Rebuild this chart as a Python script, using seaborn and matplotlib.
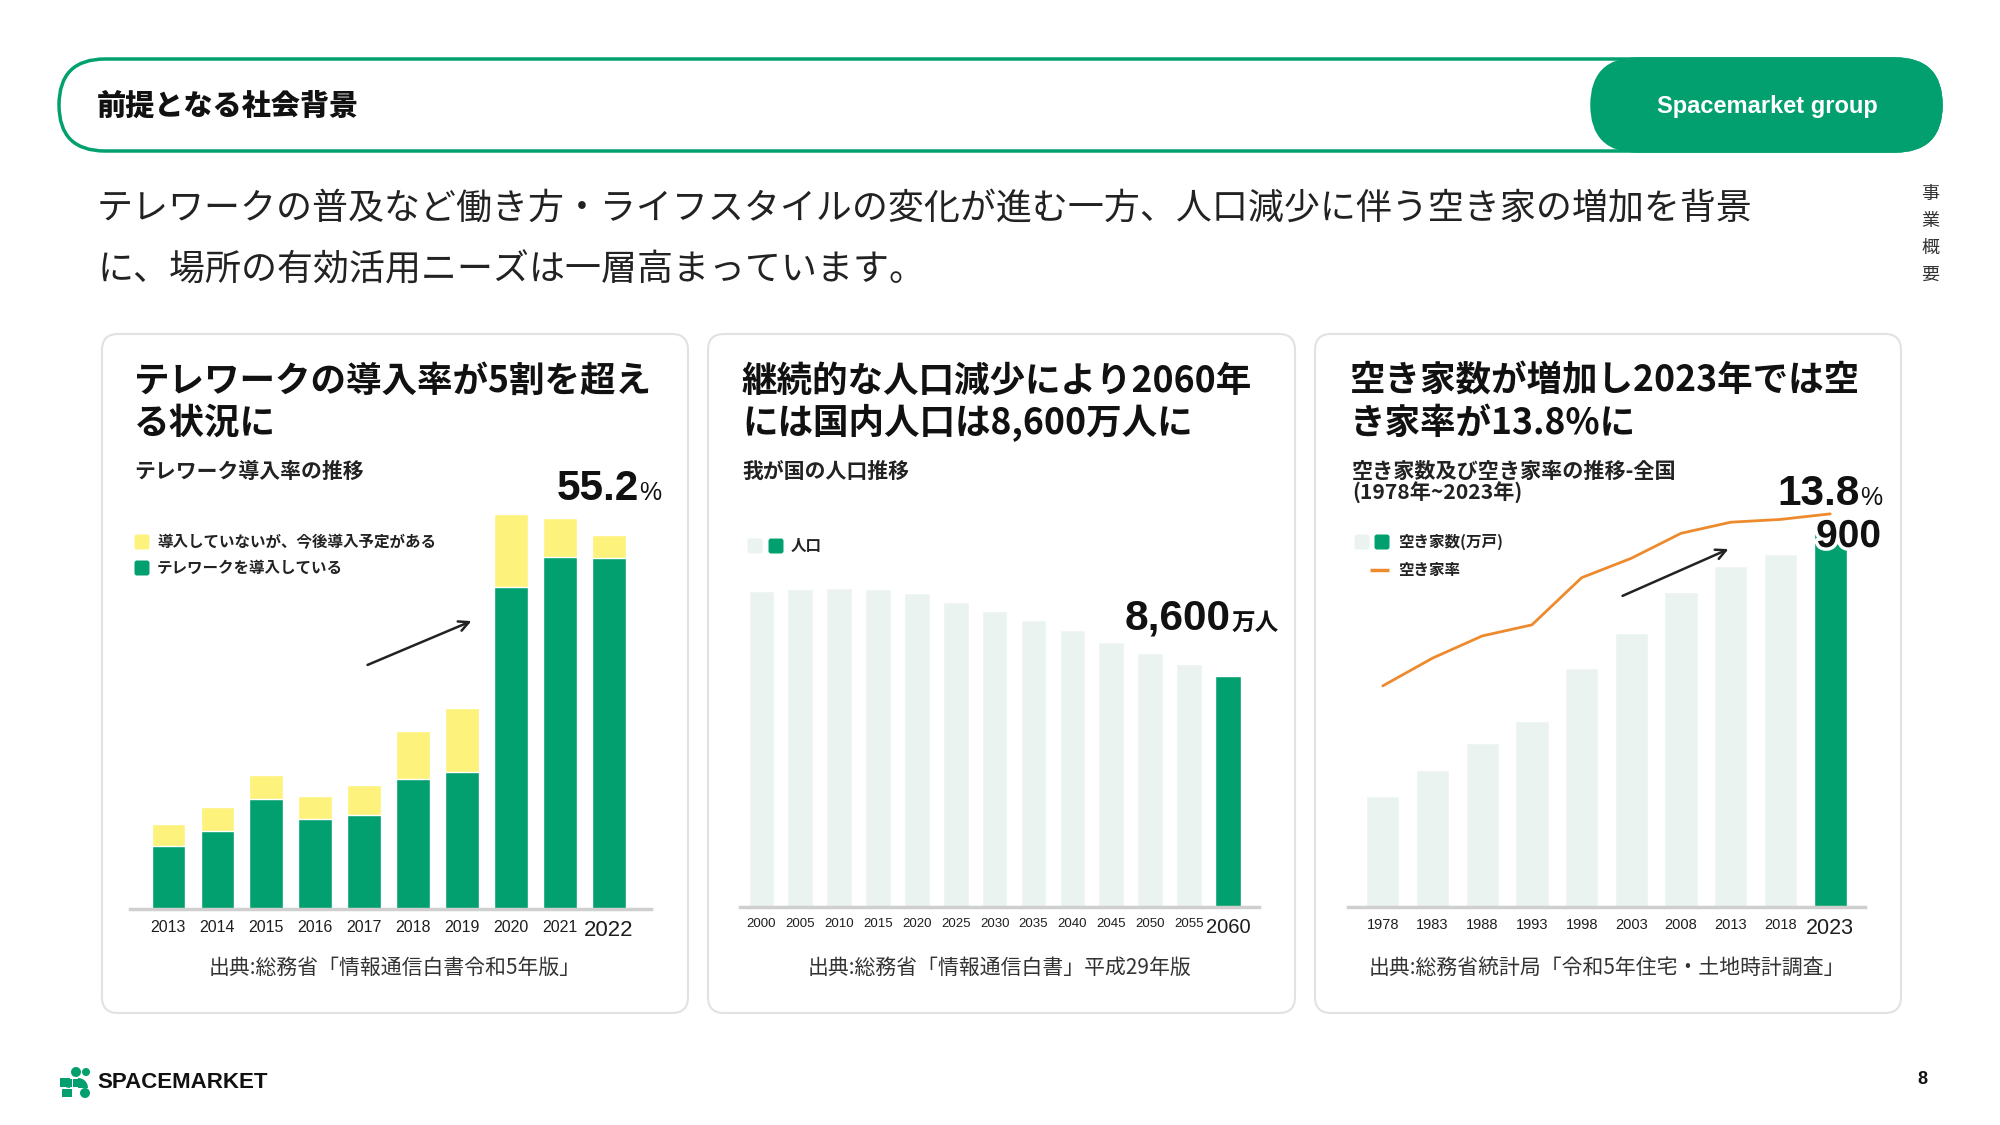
import numpy as np
import matplotlib
matplotlib.use("Agg")
import matplotlib.pyplot as plt
import matplotlib.patheffects as pe
from matplotlib.patches import FancyBboxPatch, Circle, Wedge, Rectangle
import seaborn as sns

# ---- data ----
telework_years = ["2013", "2014", "2015", "2016", "2017", "2018", "2019", "2020", "2021", "2022"]
telework_adopted = [9.3, 11.5, 16.2, 13.3, 13.9, 19.1, 20.2, 47.5, 51.9, 51.7]
telework_planned = [3.2, 3.5, 3.5, 3.3, 4.4, 7.2, 9.4, 10.8, 5.7, 3.5]

pop_years = ["2000", "2005", "2010", "2015", "2020", "2025", "2030",
             "2035", "2040", "2045", "2050", "2055", "2060"]
population = [11780, 11830, 11880, 11830, 11690, 11360, 11020,
              10690, 10310, 9880, 9460, 9030, 8600]

vacant_years = ["1978", "1983", "1988", "1993", "1998", "2003", "2008", "2013", "2018", "2023"]
vacant_houses = [268, 330, 394, 448, 576, 659, 757, 820, 849, 900]
vacant_rate = [7.6, 8.6, 9.4, 9.8, 11.5, 12.2, 13.1, 13.5, 13.6, 13.8]

GREEN = "#02A06F"
YELLOW = "#FDF27B"
LIGHT = "#EBF3F0"
ORANGE = "#EE8A2E"
INK = "#1E1E1E"
NUM_FONT = "Liberation Sans"

sns.set_theme(style="white")
plt.rcParams["font.family"] = ["Noto Sans CJK JP", "DejaVu Sans"]

W, H = 2000, 1125
fig = plt.figure(figsize=(20, 11.25), dpi=100, facecolor="white")

# background axes in pixel coordinates (y downwards)
bg = fig.add_axes([0, 0, 1, 1])
bg.set_xlim(0, W)
bg.set_ylim(H, 0)
bg.axis("off")


def px_axes(x0, y0, x1, y1):
    ax = fig.add_axes([x0 / W, 1 - y1 / H, (x1 - x0) / W, (y1 - y0) / H])
    ax.set_facecolor("none")
    return ax


def style_axis(ax, labels, small, big, xlim, ylim):
    ax.set_xlim(*xlim)
    ax.set_ylim(*ylim)
    for s in ["top", "right", "left"]:
        ax.spines[s].set_visible(False)
    ax.spines["bottom"].set_color("#CFCFCF")
    ax.spines["bottom"].set_linewidth(2.5)
    ax.set_yticks([])
    ax.set_xticks(range(len(labels)))
    ax.set_xticklabels(labels, fontfamily=NUM_FONT, fontsize=small, color=INK)
    ax.get_xticklabels()[-1].set_fontsize(big)
    ax.tick_params(axis="x", length=0, pad=8)
    ax.set_xlabel("")
    ax.set_ylabel("")


# ---- header ----
bg.add_patch(FancyBboxPatch((59, 59), 1882, 92, boxstyle="round,pad=0,rounding_size=46",
                            facecolor="white", edgecolor=GREEN, lw=2.5))
bg.add_patch(FancyBboxPatch((1592, 59), 349, 92, boxstyle="round,pad=0,rounding_size=46",
                            facecolor=GREEN, edgecolor=GREEN, lw=2.5))
bg.text(97, 106, "前提となる社会背景", fontsize=21, fontweight="heavy", color="#111", va="center")
bg.text(1767, 106, "Spacemarket group", fontsize=17, fontweight="bold", color="white",
        va="center", ha="center", fontfamily=NUM_FONT)

bg.text(97, 209, "テレワークの普及など働き方・ライフスタイルの変化が進む一方、人口減少に伴う空き家の増加を背景",
        fontsize=25.9, color="#222", va="center")
bg.text(97, 270, "に、場所の有効活用ニーズは一層高まっています。", fontsize=25.9, color="#222", va="center")

for i, ch in enumerate("事業概要"):
    bg.text(1930, 194 + i * 27, ch, fontsize=13, color="#333", ha="center", va="center")

# ---- panels ----
for x0, w in [(102, 586), (708, 587), (1315, 586)]:
    bg.add_patch(FancyBboxPatch((x0, 334), w, 679, boxstyle="round,pad=0,rounding_size=16",
                                facecolor="white", edgecolor="#E2E2E2", lw=1.5))

titles = [
    (134, ["テレワークの導入率が5割を超え", "る状況に"]),
    (742, ["継続的な人口減少により2060年", "には国内人口は8,600万人に"]),
    (1350, ["空き家数が増加し2023年では空", "き家率が13.8%に"]),
]
for x, lines in titles:
    for j, ln in enumerate(lines):
        bg.text(x, 381 + j * 42, ln, fontsize=25.6, fontweight="bold", color="#111", va="center")

bg.text(134, 471, "テレワーク導入率の推移", fontsize=15, fontweight="bold", color="#222", va="center")
bg.text(742, 471, "我が国の人口推移", fontsize=15, fontweight="bold", color="#222", va="center")
bg.text(1352, 471, "空き家数及び空き家率の推移-全国", fontsize=15.2, fontweight="bold", color="#222", va="center")
bg.text(1352, 493, "(1978年~2023年)", fontsize=15.2, fontweight="bold", color="#222", va="center")


def swatch(x, y, color, size=15):
    bg.add_patch(FancyBboxPatch((x - size / 2, y - size / 2), size, size,
                                boxstyle="round,pad=0,rounding_size=2.5",
                                facecolor=color, edgecolor="none"))


# legends
swatch(142, 542, YELLOW)
bg.text(157, 542, "導入していないが、今後導入予定がある", fontsize=11.2, fontweight="bold", color="#222", va="center")
swatch(142, 568, GREEN)
bg.text(157, 568, "テレワークを導入している", fontsize=11.2, fontweight="bold", color="#222", va="center")

swatch(755, 546, LIGHT)
swatch(776, 546, GREEN)
bg.text(791, 546, "人口", fontsize=11.2, fontweight="bold", color="#222", va="center")

swatch(1362, 542, LIGHT)
swatch(1382, 542, GREEN)
bg.text(1398, 542, "空き家数(万戸)", fontsize=11.2, fontweight="bold", color="#222", va="center")
bg.plot([1370, 1389], [570, 570], color=ORANGE, lw=2.5, solid_capstyle="butt")
bg.text(1398, 570, "空き家率", fontsize=11.2, fontweight="bold", color="#222", va="center")

# big callout numbers
bg.text(639, 500, "55.2", fontsize=30.5, fontweight="bold", color="#111", ha="right",
        va="baseline", fontfamily=NUM_FONT)
bg.text(639, 500, "%", fontsize=18, color="#111", ha="left", va="baseline", fontfamily=NUM_FONT)
bg.text(1231, 630, "8,600", fontsize=30.5, fontweight="bold", color="#111", ha="right",
        va="baseline", fontfamily=NUM_FONT)
bg.text(1232, 630, "万人", fontsize=17, fontweight="bold", color="#111", ha="left", va="baseline")
bg.text(1860, 505, "13.8", fontsize=30.5, fontweight="bold", color="#111", ha="right",
        va="baseline", fontfamily=NUM_FONT)
bg.text(1860, 505, "%", fontsize=18, color="#111", ha="left", va="baseline", fontfamily=NUM_FONT)

# arrows
bg.annotate("", xy=(474, 620), xytext=(365, 666),
            arrowprops=dict(arrowstyle="->", color="#222", lw=1.8, mutation_scale=18))
bg.annotate("", xy=(1731, 548), xytext=(1620, 597),
            arrowprops=dict(arrowstyle="->", color="#222", lw=1.8, mutation_scale=18))

# sources
bg.text(395, 968, "出典:総務省「情報通信白書令和5年版」", fontsize=15, color="#333", ha="center", va="center")
bg.text(1000, 968, "出典:総務省「情報通信白書」平成29年版", fontsize=15, color="#333", ha="center", va="center")
bg.text(1607, 968, "出典:総務省統計局「令和5年住宅・土地時計調査」", fontsize=15, color="#333", ha="center", va="center")

# ---- chart 1: telework stacked bars ----
ax1 = px_axes(130, 500, 651, 909)
totals = [a + p for a, p in zip(telework_adopted, telework_planned)]
sns.barplot(x=telework_years, y=totals, color=YELLOW, saturation=1, width=0.68, ax=ax1)
sns.barplot(x=telework_years, y=telework_adopted, color=GREEN, saturation=1, width=0.68, ax=ax1)
style_axis(ax1, telework_years, 11.5, 16, (-0.78, 9.86), (0, 60.3))

# ---- chart 2: population ----
ax2 = px_axes(740, 560, 1259, 907)
pop_colors = [LIGHT] * (len(pop_years) - 1) + [GREEN]
sns.barplot(x=pop_years, y=population, hue=pop_years, palette=pop_colors, legend=False,
            saturation=1, width=0.66, ax=ax2)
style_axis(ax2, pop_years, 9.5, 14.5, (-0.55, 12.8), (0, 12920))

# ---- chart 3: vacant houses + rate ----
ax3 = px_axes(1348, 500, 1865, 907)
vac_colors = [LIGHT] * (len(vacant_years) - 1) + [GREEN]
sns.barplot(x=vacant_years, y=vacant_houses, hue=vacant_years, palette=vac_colors, legend=False,
            saturation=1, width=0.67, ax=ax3)
style_axis(ax3, vacant_years, 10.5, 15.5, (-0.7, 9.7), (0, 979))
ax3b = ax3.twinx()
sns.lineplot(x=np.arange(len(vacant_years)), y=vacant_rate, color=ORANGE, lw=2, ax=ax3b)
ax3b.set_ylim(-0.37, 14.3)
ax3b.set_xlim(-0.7, 9.7)
ax3b.axis("off")
# figure-level text so it sits above the bar axes
fig.text(1881 / W, 1 - 547 / H, "900", fontsize=28, fontweight="bold", color="#111", ha="right",
         va="baseline", fontfamily=NUM_FONT, zorder=10,
         path_effects=[pe.withStroke(linewidth=5, foreground="white")])

# ---- footer ----
# simplified logo mark
bg.add_patch(Wedge((70, 1078), 10, 90, 180, facecolor=GREEN, edgecolor="none"))
bg.add_patch(Circle((76, 1072), 5, facecolor=GREEN, edgecolor="none"))
bg.add_patch(Circle((86, 1072), 4, facecolor=GREEN, edgecolor="none"))
bg.add_patch(Rectangle((60, 1079), 12, 8, facecolor=GREEN, edgecolor="none"))
bg.add_patch(Rectangle((73, 1079), 8, 8, facecolor=GREEN, edgecolor="none"))
bg.add_patch(Wedge((78, 1088), 10, 270, 360, facecolor=GREEN, edgecolor="none"))
bg.add_patch(Rectangle((62, 1089), 10, 8, facecolor=GREEN, edgecolor="none"))
bg.add_patch(Circle((85, 1093), 5, facecolor=GREEN, edgecolor="none"))
bg.text(97, 1083, "SPACEMARKET", fontsize=16, fontweight="bold", color="#111", va="center",
        fontfamily=NUM_FONT)
bg.text(1922, 1080, "8", fontsize=13, fontweight="bold", color="#111", ha="center", va="center",
        fontfamily=NUM_FONT)

fig.savefig("out.png", dpi=100, facecolor="white")
